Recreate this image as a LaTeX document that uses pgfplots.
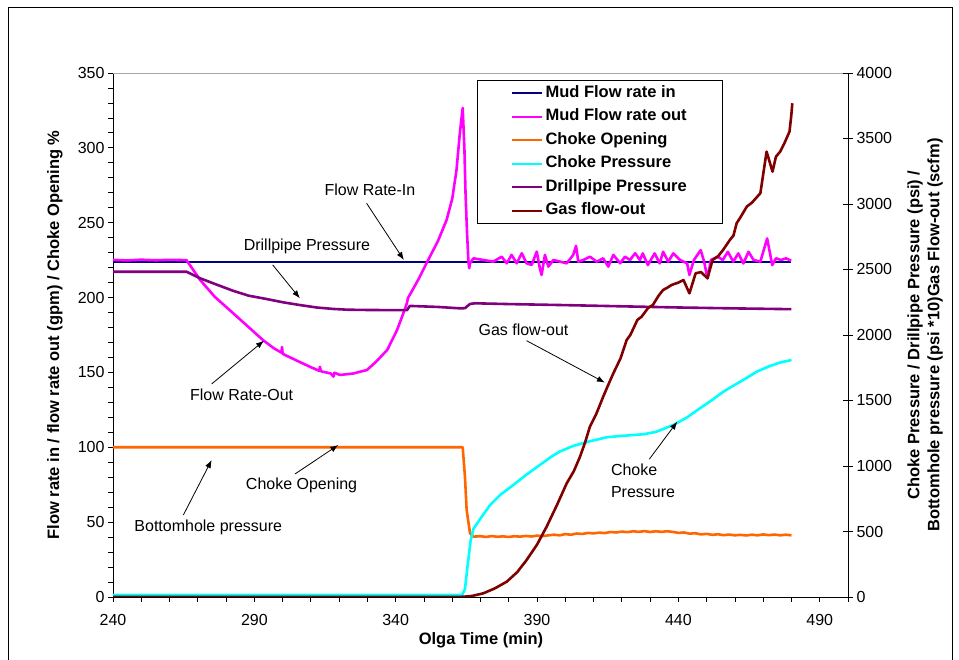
\documentclass[border=0pt]{standalone}
\usepackage{fontspec}
\setmainfont{Liberation Sans}
\usepackage{pgfplots}
\pgfplotsset{compat=1.18}
\usetikzlibrary{arrows.meta}

\definecolor{mudin}{RGB}{0,0,128}
\definecolor{mudout}{RGB}{255,0,255}
\definecolor{chokeopen}{RGB}{255,102,0}
\definecolor{chokepress}{RGB}{0,255,255}
\definecolor{dpp}{RGB}{128,0,128}
\definecolor{gasout}{RGB}{128,0,0}

\newcommand{\annfont}{\fontsize{16}{19}\selectfont}

\pgfplotsset{
  common/.style={
    at={(113pt,63pt)}, anchor=south west,
    scale only axis, width=735pt, height=524pt,
    xmin=240, xmax=500,
    /pgf/number format/assume math mode=true,
    /pgf/number format/1000 sep={},
    ticklabel style={font=\fontsize{16}{18}\selectfont},
    tick style={black, line width=0.8pt},
    axis line style={black, line width=0.9pt, -},
  },
  series/.style={line width=2.6pt, line join=round},
}

\begin{document}
\begin{tikzpicture}[x=1pt,y=1pt]
\useasboundingbox (0,0) rectangle (959,660);
% chart frame
\draw[black, line width=0.8pt] (8,-2) -- (8,653) -- (952,653) -- (952,-2);

% primary axis: flow rates and choke opening
\begin{axis}[common,
  ymin=0, ymax=350,
  axis x line*=bottom, axis y line*=left,
  xtick={240,290,340,390,440,490},
  minor xtick={250,260,...,500},
  ytick={0,50,...,350},
  minor ytick={10,20,...,340},
  tick align=outside,
  major tick length=5pt, minor tick length=5pt,
  xticklabel style={yshift=-9pt},
]
\draw[gray!70, line width=0.8pt] (rel axis cs:0,1) -- (rel axis cs:1,1);

% Mud Flow rate in
\addplot[mudin, line width=2.2pt] coordinates {(240,224) (480,224)};

% Mud Flow rate out
\addplot[mudout, series] coordinates {
(240,225.2) (245,224.8) (250,225.3) (255,224.9) (260,225.2) (266,225)
(268,219.5) (270.8,211.8) (276,200.5) (282.4,189.7) (288,180.2) (293,171.7)
(297,166) (299.6,163.2) (299.8,167) (300,162.5) (301,161.5) (306,157) (310,153.5)
(313,151) (313.2,153.8) (313.5,150.8) (317,149.3) (318,147.2) (318.3,149.8) (320.3,148.3)
(325,149.3) (329.8,151.6) (333,157) (337,165) (340.5,178.4) (343,191) (344,196.5)
(344.3,199.5) (348,212) (352,227) (355,238) (358,251.8) (360,266) (361.5,285)
(362.7,310) (363.7,326.6) (364.3,300) (364.7,270) (365.2,245) (365.7,225) (366,219.6)
(366.3,222.9) (367.5,226.2) (371.0,225.1) (374.5,224.0) (377.5,227.3) (379.3,222.9)
(381.0,228.5) (382.8,222.9) (384.6,229.6) (386.3,222.9) (388.1,221.8) (389.9,230.7)
(391.0,219.5) (391.6,215.1) (392.8,228.5) (394.0,220.7) (395.8,225.1) (398.1,224.0)
(400.5,222.9) (402.8,228.5) (403.8,234.5) (404.6,224.0) (406.4,225.1) (408.7,227.3)
(411.1,224.0) (413.4,226.2) (415.2,220.7) (417.0,228.5) (419.4,222.9) (421.1,227.3)
(422.9,225.1) (424.7,229.6) (426.4,225.1) (427.4,229.5) (429.2,221.7) (431.6,229.5)
(433.4,222.8) (434.6,230.6) (436.4,224.0) (438.2,229.5) (440.6,225.1) (443.1,222.8)
(443.9,215.1) (445.5,225.1) (447.9,231.7) (449.1,224.0) (450.3,212.8) (451.5,225.1)
(453.9,227.3) (455.7,225.1) (457.5,230.6) (459.4,224.0) (461.2,229.5) (463.0,222.8)
(464.8,230.6) (466.6,225.1) (469.0,224.0) (471.4,239.5) (473.2,221.7) (474.5,226.2)
(476.3,225.1) (478.1,226.2) (479.9,224.6)
};

% Choke Opening
\addplot[chokeopen, series] coordinates {
(240,100) (363.7,100) (364.5,80.4) (365.1,58.1) (366.3,42.5) (367.5,40.3)
(370,40.6) (372,40.1) (374,40.7) (376,40.2) (378,40.5) (380,40.1) (382,40.6)
(384,40.3) (386,40.8) (388,40.4) (390,41) (392,40.6) (394,41.2) (396,41.6)
(398,41.2) (400,42) (402,41.6) (404,42.4) (406,42.1) (408,42.8) (410,42.5)
(412,43) (414,42.7) (416,43.4) (418,43.1) (420,43.7) (422,43.3) (424,43.9)
(426,43.5) (428,44) (430,43.4) (432,43.9) (434,43.5) (436,43.9) (438,43.5)
(440,42.8) (442,43.1) (444,42.3) (446,42.6) (448,41.8) (450,42.2) (452,41.5)
(454,41.9) (456,41.3) (458,41.7) (460,41.2) (462,41.5) (464,41.1) (466,41.6)
(468,41.2) (470,41.8) (472,41.3) (474,41.7) (476,41.2) (478,41.6) (480,41.2)
};

% annotation anchors
\coordinate (inT) at (axis cs:330.9,271.9);
\coordinate (inA) at (axis cs:329.7,263);
\coordinate (inB) at (axis cs:342.9,225.1);
\coordinate (dpT) at (axis cs:308.6,234.5);
\coordinate (dpA) at (axis cs:296.5,221.8);
\coordinate (dpB) at (axis cs:306.1,199.5);
\coordinate (outT) at (axis cs:285.5,135);
\coordinate (outA) at (axis cs:274.9,142.3);
\coordinate (outB) at (axis cs:293.4,171.2);
\coordinate (coT) at (axis cs:306.7,74.8);
\coordinate (coA) at (axis cs:304.4,82.2);
\coordinate (coB) at (axis cs:319.7,101.5);
\coordinate (bhT) at (axis cs:273.7,46.6);
\coordinate (bhA) at (axis cs:264.9,54.8);
\coordinate (bhB) at (axis cs:274.9,91.5);
\coordinate (gfT) at (axis cs:385.2,178.4);
\coordinate (gfA) at (axis cs:386.3,171.2);
\coordinate (gfB) at (axis cs:414,143.2);
\coordinate (cpT) at (axis cs:416.1,77.5);
\coordinate (cpA) at (axis cs:429.7,92);
\coordinate (cpB) at (axis cs:439.6,117.1);
\end{axis}

% secondary axis: pressures and gas flow
\begin{axis}[common,
  ymin=0, ymax=4000,
  axis y line*=right, axis x line=none,
  ytick={0,500,...,4000},
  tick align=center, major tick length=10pt,
  legend style={at={(0.4952,0.9866)}, anchor=north west,
    draw=black, line width=0.8pt, fill=white,
    inner xsep=34pt, inner ysep=3pt, row sep=4pt,
    font=\fontsize{16.5}{19}\selectfont\bfseries,
    nodes={inner sep=2pt, text height=12pt, text depth=3.5pt}},
  legend cell align=left,
  legend image code/.code={\draw[#1, line width=2.2pt] (0pt,0pt) -- (30pt,0pt);},
]

% Choke Pressure
\addplot[chokepress, series, forget plot] coordinates {
(240,15) (363.5,15) (364.5,60) (365.5,250) (366.5,430) (367.5,520) (370,600)
(373.4,702) (377,780) (381.6,855) (386,930) (391,1008) (395,1070) (398,1110)
(402.8,1153) (408,1185) (414.6,1219) (420,1230) (427.6,1242) (432,1260)
(438.2,1313) (443,1370) (447.6,1440) (452,1505) (455.9,1567) (460,1620)
(464,1670) (467.7,1720) (472,1760) (476,1790) (480,1809)
};

% Drillpipe Pressure
\addplot[dpp, series, forget plot] coordinates {
(240,2483) (266,2483) (270.8,2433) (276,2390) (282.4,2338) (288,2300)
(294.5,2274) (300,2250) (306,2229) (312,2210) (317.8,2199) (323,2193)
(329.8,2191) (337,2190) (344,2190) (345,2222) (355,2214) (363,2203)
(364.5,2205) (366.3,2237) (368,2242) (380,2236) (400,2228) (426.4,2216)
(440,2210) (460,2203) (480,2197)
};

% Gas flow-out
\addplot[gasout, series, forget plot] coordinates {
(240,0) (362,0) (364,2) (367,8) (371,28) (375,65) (379.3,117) (383,190)
(386.3,282) (390,400) (393.4,537) (397,700) (400.5,868) (403,960) (405.2,1071)
(407,1180) (408.7,1300) (411,1400) (413.4,1529) (415,1610) (417,1708)
(419.5,1820) (421.7,1962) (423,2000) (425.5,2115) (427,2140) (429.2,2204)
(431,2230) (433,2300) (434.6,2344) (436,2360) (437.6,2382) (440,2400)
(441.8,2420) (443.9,2318) (446.1,2471) (448,2480) (450.3,2433) (452.1,2573)
(454,2600) (455.8,2649) (458.2,2725) (459.5,2760) (460.6,2853) (462,2900)
(464.2,2980) (466,3010) (469,3082) (471.2,3400) (473.3,3247) (474.5,3361)
(476,3400) (477.5,3464) (479.3,3552) (479.9,3667) (480.3,3769)
};

\addlegendimage{mudin}\addlegendentry{Mud Flow rate in}
\addlegendimage{mudout}\addlegendentry{Mud Flow rate out}
\addlegendimage{chokeopen}\addlegendentry{Choke Opening}
\addlegendimage{chokepress}\addlegendentry{Choke Pressure}
\addlegendimage{dpp}\addlegendentry{Drillpipe Pressure}
\addlegendimage{gasout}\addlegendentry{Gas flow-out}
\end{axis}

% annotations
\begin{scope}[annfont/.style={font=\annfont}]
\node[annfont] at (inT) {Flow Rate-In};
\node[annfont] at (dpT) {Drillpipe Pressure};
\node[annfont] at (outT) {Flow Rate-Out};
\node[annfont] at (coT) {Choke Opening};
\node[annfont] at (bhT) {Bottomhole pressure};
\node[annfont] at (gfT) {Gas flow-out};
\node[annfont, anchor=west, align=left, font=\fontsize{16}{21.7}\selectfont, inner sep=0pt] at (cpT) {Choke\\Pressure};
\foreach \a/\b in {inA/inB, dpA/dpB, outA/outB, coA/coB, bhA/bhB, gfA/gfB, cpA/cpB}
  \draw[black, line width=0.8pt, -{Latex[length=8pt,width=6pt]}] (\a) -- (\b);
\end{scope}

% axis titles
\node[font=\fontsize{16.5}{19}\selectfont\bfseries] at (481,20) {Olga Time (min)};
\node[rotate=90, font=\fontsize{16.5}{19}\selectfont\bfseries] at (55,325) {Flow rate in / flow rate out (gpm) / Choke Opening \%};
\node[rotate=90, align=center, font=\fontsize{16.5}{20}\selectfont\bfseries] at (925,325)
  {Choke Pressure / Drillpipe Pressure (psi) /\\Bottomhole pressure (psi *10)Gas Flow-out (scfm)};
\end{tikzpicture}
\end{document}
